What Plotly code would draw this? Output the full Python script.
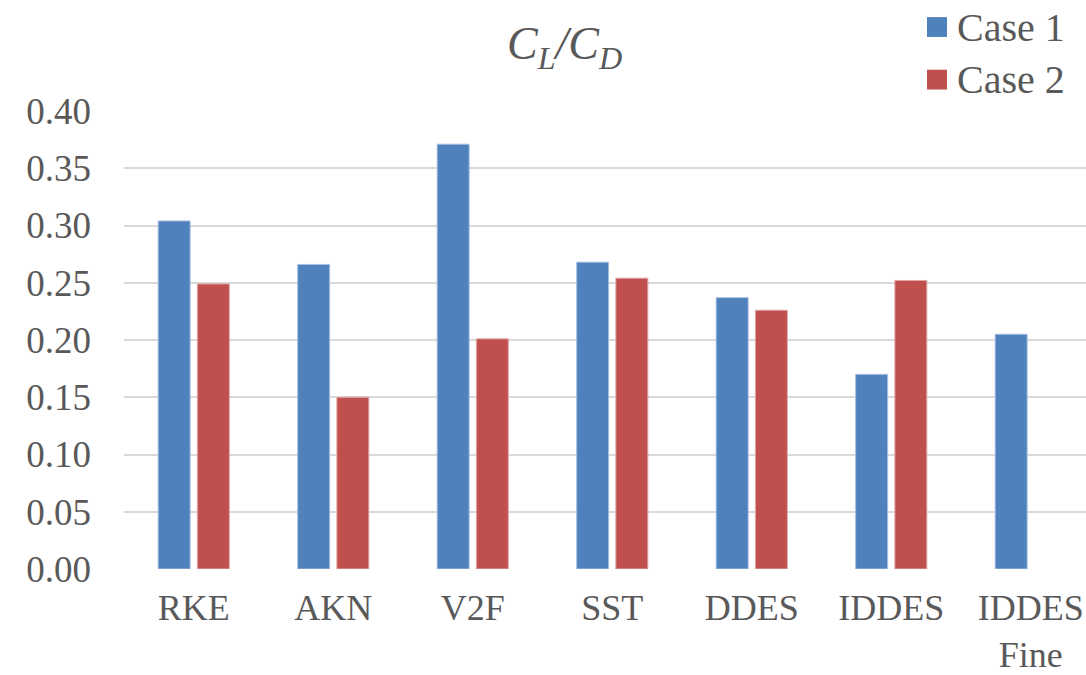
import plotly.graph_objects as go

categories = ["RKE", "AKN", "V2F", "SST", "DDES", "IDDES", "IDDES<br>Fine"]
case1 = [0.304, 0.266, 0.371, 0.268, 0.237, 0.170, 0.205]
case2 = [0.249, 0.150, 0.201, 0.254, 0.226, 0.252, None]
series_names = ["Case 1", "Case 2"]
y_ticks = [0.00, 0.05, 0.10, 0.15, 0.20, 0.25, 0.30, 0.35, 0.40]

blue = "#4F81BD"
red = "#C0504D"
text_color = "#595959"
font_family = "Liberation Serif"

fig = go.Figure()
fig.add_trace(go.Bar(x=categories, y=case1, name=series_names[0],
                     marker=dict(color=blue, line=dict(color="#A7BFE0", width=1))))
fig.add_trace(go.Bar(x=categories, y=case2, name=series_names[1],
                     marker=dict(color=red, line=dict(color="#E0A8A6", width=1))))

W, H = 1086, 675
L, R, T, B = 124, 0, 110.6, 102.9

fig.update_layout(
    width=W, height=H,
    margin=dict(l=L, r=R, t=T, b=B, pad=0),
    paper_bgcolor="white", plot_bgcolor="white",
    barmode="group", bargap=0.438, bargroupgap=0.184,
    showlegend=False,
    font=dict(family=font_family, color=text_color, size=36),
)
fig.update_xaxes(range=[-0.5, 6.396], showgrid=False, showline=False, ticks="",
                 tickfont=dict(size=36, family=font_family, color=text_color),
                 ticklabelstandoff=14)
fig.update_yaxes(range=[0, 0.4], tickvals=y_ticks, tickformat=".2f",
                 showgrid=True, gridcolor="#D9D9D9", gridwidth=2,
                 zeroline=False, showline=False, ticks="",
                 tickfont=dict(size=37, family=font_family, color=text_color),
                 ticklabelstandoff=32)

pw = W - L - R
ph = H - T - B
def px_x(x):
    return (x - L) / pw
def px_y(y):
    return (H - B - y) / ph

# title
fig.add_annotation(xref="paper", yref="paper", x=px_x(564), y=px_y(46),
                   text="<i>C<sub>L</sub>/C<sub>D</sub></i>", showarrow=False,
                   font=dict(size=46, family=font_family, color=text_color),
                   xanchor="center", yanchor="middle")

# legend (custom, larger swatches)
for name, col, cy in [(series_names[0], blue, 26), (series_names[1], red, 79)]:
    fig.add_shape(type="rect", xref="paper", yref="paper",
                  x0=px_x(927), x1=px_x(947), y0=px_y(cy + 10), y1=px_y(cy - 10),
                  fillcolor=col, line=dict(width=0))
    fig.add_annotation(xref="paper", yref="paper", x=px_x(955), y=px_y(cy),
                       text=name, showarrow=False, xanchor="left", yanchor="middle",
                       font=dict(size=40, family=font_family, color=text_color))

fig.write_html("out.html")
